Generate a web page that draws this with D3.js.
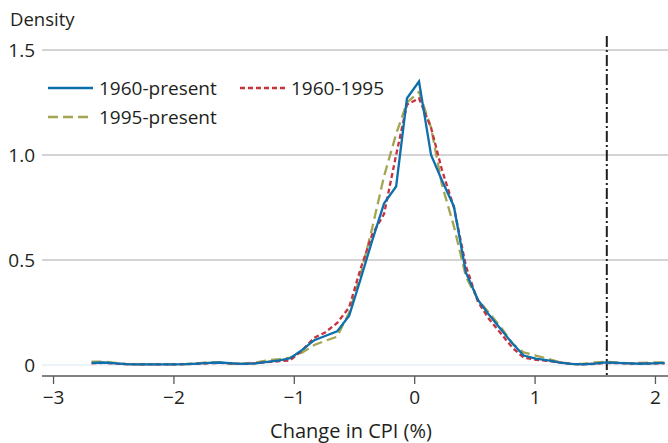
<!DOCTYPE html>
<html>
<head>
<meta charset="utf-8">
<script src="https://cdn.jsdelivr.net/npm/d3@7"></script>
<style>
  body { margin: 0; background: #fff; }
  svg text { font-family: "Open Sans", sans-serif; fill: #231f20; }
</style>
</head>
<body>
<svg id="chart" width="668" height="443"></svg>
<script>
var svg = d3.select('#chart')

// change in CPI (%), bin centres
var cpi = [-2.68, -2.58, -2.48, -2.39, -2.29, -2.19, -2.09, -2.00, -1.90, -1.80,
  -1.71, -1.61, -1.51, -1.42, -1.32, -1.22, -1.12, -1.03, -0.93, -0.83,
  -0.74, -0.64, -0.54, -0.45, -0.35, -0.25, -0.15, -0.06, 0.04, 0.14,
  0.23, 0.33, 0.43, 0.53, 0.62, 0.72, 0.82, 0.91, 1.01, 1.11,
  1.20, 1.30, 1.40, 1.50, 1.59, 1.69, 1.79, 1.88, 1.98, 2.08];

var dens1960present = [0.010, 0.012, 0.008, 0.004, 0.003, 0.003, 0.003, 0.003, 0.004, 0.007,
  0.010, 0.012, 0.008, 0.005, 0.008, 0.015, 0.022, 0.032, 0.072, 0.118,
  0.138, 0.160, 0.235, 0.400, 0.590, 0.770, 0.850, 1.270, 1.350, 1.000,
  0.880, 0.755, 0.440, 0.310, 0.240, 0.170, 0.100, 0.045, 0.030, 0.022,
  0.012, 0.005, 0.003, 0.007, 0.012, 0.010, 0.008, 0.006, 0.008, 0.010];

var dens19601995 = [0.008, 0.010, 0.007, 0.004, 0.003, 0.003, 0.003, 0.003, 0.004, 0.006,
  0.008, 0.010, 0.007, 0.005, 0.008, 0.014, 0.018, 0.022, 0.070, 0.130,
  0.155, 0.200, 0.275, 0.450, 0.620, 0.720, 1.000, 1.240, 1.270, 1.130,
  0.930, 0.750, 0.470, 0.300, 0.220, 0.150, 0.080, 0.035, 0.025, 0.020,
  0.012, 0.005, 0.003, 0.006, 0.010, 0.009, 0.007, 0.006, 0.007, 0.008];

var dens1995present = [0.016, 0.016, 0.010, 0.004, 0.003, 0.003, 0.003, 0.003, 0.004, 0.008,
  0.014, 0.012, 0.006, 0.006, 0.012, 0.022, 0.028, 0.035, 0.060, 0.095,
  0.115, 0.135, 0.250, 0.420, 0.650, 0.900, 1.100, 1.250, 1.300, 1.130,
  0.860, 0.660, 0.420, 0.310, 0.250, 0.180, 0.100, 0.060, 0.045, 0.030,
  0.015, 0.005, 0.005, 0.012, 0.015, 0.012, 0.008, 0.010, 0.012, 0.012];

var seriesNames = ["1960-present", "1960-1995", "1995-present"];
var yTicks = [0, 0.5, 1.0, 1.5];
var xTicks = [-3, -2, -1, 0, 1, 2];
var threshold = 1.6;

var x = d3.scaleLinear().domain([-3.1, 2.1]).range([41, 667]);
var y = d3.scaleLinear().domain([0, 1.5]).range([365, 50]);

// gridlines
svg.append("g").selectAll("line")
  .data(yTicks)
  .enter()
  .append("line")
  .attr("x1", 42)
  .attr("x2", 668)
  .attr("y1", function (d) { return y(d) })
  .attr("y2", function (d) { return y(d) })
  .attr("stroke", function (d) { return d === 0 ? "#e6eef5" : "#c6c6c6" })
  .attr("stroke-width", 1.3)

svg.append("g").selectAll("text")
  .data(yTicks)
  .enter()
  .append("text")
  .attr("x", 35)
  .attr("y", function (d) { return y(d) })
  .attr("dy", "0.35em")
  .attr("text-anchor", "end")
  .style("font-size", "19px")
  .text(function (d) { return d === 0 ? "0" : d3.format(".1f")(d) })

svg.append("text")
  .attr("x", 10)
  .attr("y", 26)
  .style("font-size", "18.5px")
  .text("Density")

// x axis
var xAxis = svg.append("g")
  .attr("transform", "translate(0,376)")
  .call(d3.axisBottom(x).tickValues(xTicks).tickSize(8).tickPadding(7)
    .tickFormat(function (d) { return d < 0 ? "\u2212" + Math.abs(d) : d }))
xAxis.select(".domain").attr("d", "M42,0H668").attr("stroke", "#58595b").attr("stroke-width", 1.5)
xAxis.selectAll(".tick line").attr("stroke", "#58595b").attr("stroke-width", 1.3)
xAxis.selectAll(".tick text").style("font-size", "19px").style("font-family", "Open Sans").attr("fill", "#231f20")

svg.append("text")
  .attr("x", 351)
  .attr("y", 438)
  .attr("text-anchor", "middle")
  .style("font-size", "20px")
  .text("Change in CPI (%)")

// threshold line
svg.append("line")
  .attr("x1", x(threshold))
  .attr("x2", x(threshold))
  .attr("y1", 36)
  .attr("y2", 376)
  .attr("stroke", "#231f20")
  .attr("stroke-width", 2)
  .attr("stroke-dasharray", "11,3,2,3")

// density lines
var line = d3.line()
  .x(function (d) { return x(d[0]) })
  .y(function (d) { return y(d[1]) })

var styles = [
  { color: "#0d6fab", dash: null, data: dens1960present },
  { color: "#c8313e", dash: "5,3", data: dens19601995 },
  { color: "#a3a550", dash: "10,5", data: dens1995present }
]
var drawOrder = [2, 1, 0]

drawOrder.forEach(function (i) {
  var s = styles[i]
  svg.append("path")
    .datum(cpi.map(function (c, j) { return [c, s.data[j]] }))
    .attr("d", line)
    .attr("fill", "none")
    .attr("stroke", s.color)
    .attr("stroke-width", 2.3)
    .attr("stroke-dasharray", s.dash)
})

// legend
var legendPos = [[48, 88], [240, 88], [48, 117]]
var legend = svg.append("g").selectAll("g")
  .data(seriesNames)
  .enter()
  .append("g")
  .attr("transform", function (d, i) { return "translate(" + legendPos[i][0] + "," + legendPos[i][1] + ")" })

legend.append("line")
  .attr("x1", 0)
  .attr("x2", 45)
  .attr("stroke", function (d, i) { return styles[i].color })
  .attr("stroke-width", 2.3)
  .attr("stroke-dasharray", function (d, i) { return styles[i].dash })

legend.append("text")
  .attr("x", 51)
  .attr("dy", "0.35em")
  .style("font-size", "19px")
  .text(function (d) { return d })
</script>
</body>
</html>
